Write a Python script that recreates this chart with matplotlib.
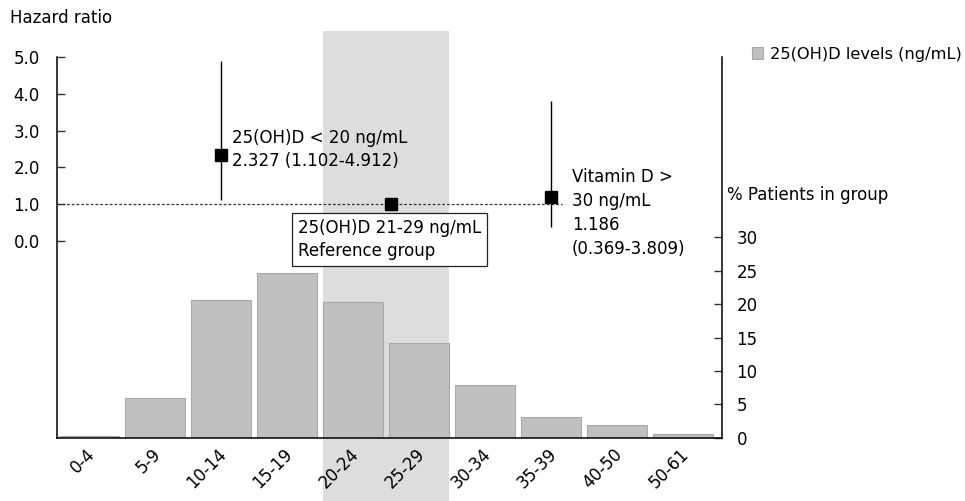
import matplotlib
matplotlib.use("Agg")
import matplotlib.pyplot as plt
import matplotlib.transforms as mtransforms
from matplotlib.patches import Rectangle
import numpy as np

plt.rcParams['font.family'] = ['DejaVu Sans']

# ---- data ----
categories = ["0-4", "5-9", "10-14", "15-19", "20-24", "25-29", "30-34", "35-39", "40-50", "50-61"]
pct_patients = [0.3, 6.0, 20.7, 24.7, 20.4, 14.2, 7.9, 3.1, 1.9, 0.6]
reference_cats = ["20-24", "25-29"]

hr_x = [2.0, 4.58, 7.0]
hr_val = [2.327, 1.0, 1.186]
hr_lo = [1.102, None, 0.369]
hr_hi = [4.912, None, 3.809]
hr_labels = ["25(OH)D < 20 ng/mL\n2.327 (1.102-4.912)",
             "25(OH)D 21-29 ng/mL\nReference group",
             "Vitamin D >\n30 ng/mL\n1.186\n(0.369-3.809)"]

pct_ticks = [0, 5, 10, 15, 20, 25, 30]
hr_ticks = [0.0, 1.0, 2.0, 3.0, 4.0, 5.0]

FS = 12
W, H = 965, 501
fig = plt.figure(figsize=(W / 100, H / 100), dpi=100)
rect = [57 / W, (H - 437.7) / H, (722 - 57) / W, (437.7 - 57.3) / H]
axb = fig.add_axes(rect)

x = np.arange(len(categories))
bw = 0.9
bar_color = "#c0c0c0"
axb.bar(x, pct_patients, width=bw, color=bar_color, edgecolor="#a8a8a8",
        linewidth=0.8, zorder=2, label="25(OH)D levels (ng/mL)")
axb.set_xlim(-0.485, len(categories) - 1 + 0.59)
axb.set_ylim(0, 57.0)

# shaded reference band (extends beyond axes)
i0 = categories.index(reference_cats[0])
i1 = categories.index(reference_cats[-1])
trans = mtransforms.blended_transform_factory(axb.transData, fig.transFigure)
band = Rectangle((i0 - bw / 2, 0), (i1 + bw / 2) - (i0 - bw / 2), (H - 31) / H,
                 transform=trans, facecolor="#dcdddc", edgecolor="none",
                 clip_on=False, zorder=0)
axb.add_patch(band)

# hazard ratio axes (twin)
axh = axb.twinx()

axb.yaxis.tick_right()
axb.set_yticks(pct_ticks)
axb.tick_params(axis='y', which='both', left=False, labelleft=False,
                right=True, labelright=True, direction='in', length=6,
                width=1, pad=10.5, labelsize=FS, colors='#333333',
                labelcolor='black')
axb.set_xticks(x)
axb.set_xticklabels(categories, rotation=45, ha='right', va='center',
                    rotation_mode='anchor', fontsize=FS)
axb.tick_params(axis='x', length=0, pad=10)
shift = mtransforms.ScaledTranslation(3 / 100, 0, fig.dpi_scale_trans)
for lab in axb.get_xticklabels():
    lab.set_transform(lab.get_transform() + shift)
axb.spines['top'].set_visible(False)
for s in ['left', 'right', 'bottom']:
    axb.spines[s].set_linewidth(1.1)
    axb.spines[s].set_color('black')

axh.set_ylim(-(437.7 - 240.7) / 36.68, 5.0)
axh.yaxis.tick_left()
axh.set_yticks(hr_ticks)
axh.set_yticklabels([f"{t:.1f}" for t in hr_ticks])
axh.tick_params(axis='y', which='both', right=False, labelright=False,
                left=True, labelleft=True, direction='in', length=6,
                width=1, pad=12.5, labelsize=FS, colors='#333333',
                labelcolor='black')
for s in axh.spines.values():
    s.set_visible(False)

# reference line at HR = 1
axh.plot([axb.get_xlim()[0], hr_x[2] + 0.17], [1.0, 1.0], color="#333333",
         linestyle=(0, (2.2, 1.6)), linewidth=0.9, zorder=3)

for xi, v, lo, hi in zip(hr_x, hr_val, hr_lo, hr_hi):
    if lo is not None:
        axh.vlines(xi, lo, hi, color="black", linewidth=1.0, zorder=4)
axh.plot(hr_x, hr_val, linestyle='none', marker='s', markersize=8.5,
         color='black', zorder=5)

# annotations
axh.annotate(hr_labels[0], (hr_x[0], hr_val[0]), xytext=(8, 4.3),
             textcoords='offset points', ha='left', va='center',
             fontsize=FS, linespacing=1.35)
axh.annotate(hr_labels[1], (hr_x[1], hr_val[1]), xytext=(-67, -25.4),
             textcoords='offset points', ha='left', va='center',
             fontsize=FS, linespacing=1.35, zorder=6,
             bbox=dict(boxstyle='square,pad=0.35', facecolor='white',
                       edgecolor='#222222', linewidth=0.9))
axh.annotate(hr_labels[2], (hr_x[2], hr_val[2]), xytext=(15.1, -11.5),
             textcoords='offset points', ha='left', va='center',
             fontsize=FS, linespacing=1.42)

# axis titles
fig.text(10 / W, 1 - 18 / H, "Hazard ratio", ha='left', va='center', fontsize=FS)
fig.text(727 / W, 1 - 195 / H, "% Patients in group", ha='left', va='center', fontsize=FS)

# legend
fig.legend(loc='center left', bbox_to_anchor=(751.7 / W, 1 - 54 / H),
           frameon=False, fontsize=11.7, handlelength=0.7, handleheight=0.7,
           handletextpad=0.4, borderpad=0, borderaxespad=0)

fig.savefig("out.png", dpi=100)
